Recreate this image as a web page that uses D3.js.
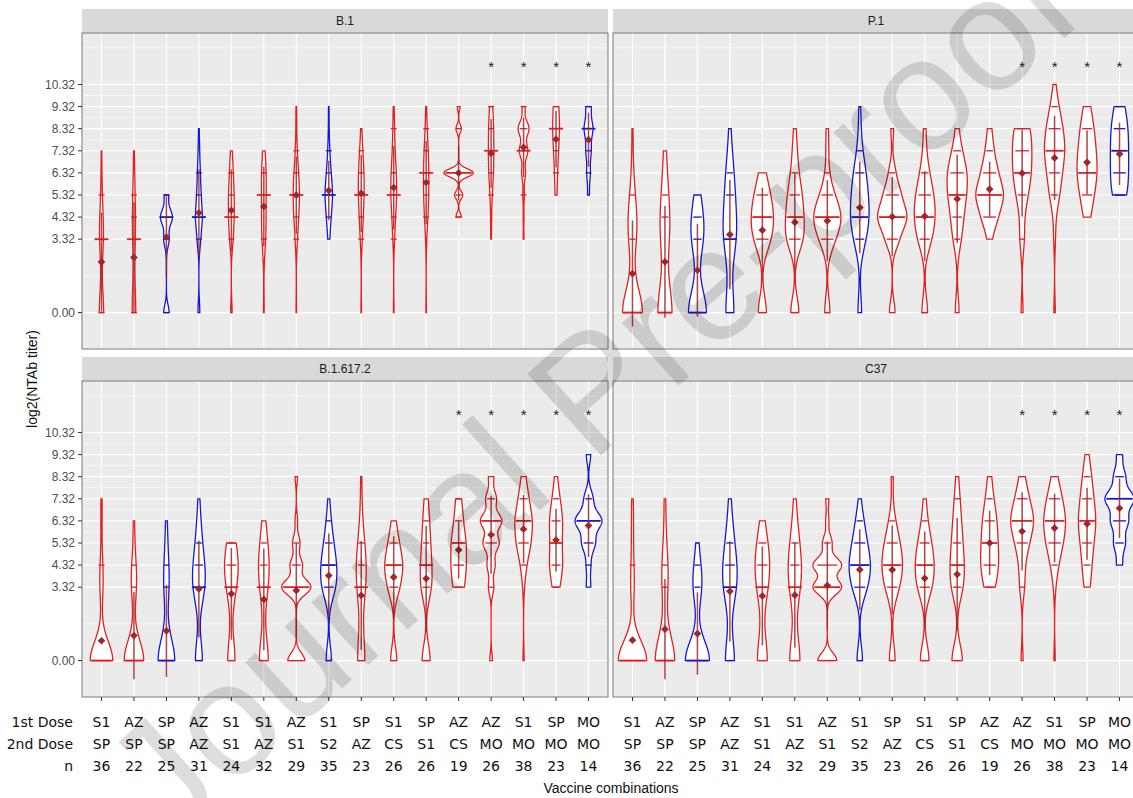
<!DOCTYPE html>
<html>
<head>
<meta charset="utf-8">
<script src="https://cdn.jsdelivr.net/npm/d3@7"></script>
<style>
  body { margin: 0; background: #fff; }
  svg text { font-family: "Liberation Sans", Arial, sans-serif; }
  .tbl { font-family: "DejaVu Sans", sans-serif !important; }
</style>
</head>
<body>
<script>
// ---- data ----
const variants = ['B.1', 'P.1', 'B.1.617.2', 'C37'];
const dose1 = ['S1','AZ','SP','AZ','S1','S1','AZ','S1','SP','S1','SP','AZ','AZ','S1','SP','MO'];
const dose2 = ['SP','SP','SP','AZ','S1','AZ','S1','S2','AZ','CS','S1','CS','MO','MO','MO','MO'];
const nSize = [36,22,25,31,24,32,29,35,23,26,26,19,26,38,23,14];
const blueGroups = [3, 4, 8, 16];
// titer levels (log2)
const levels = [0, 3.32, 4.32, 5.32, 6.32, 7.32, 8.32, 9.32, 10.32];
const yTicks = [0, 3.32, 4.32, 5.32, 6.32, 7.32, 8.32, 9.32, 10.32];

// number of subjects at each level, one row per vaccine combination
const countsB1 = [
  [16,11,5,2,1,1,0,0,0],
  [10,4,4,2,1,1,0,0,0],
  [5,5,11,4,0,0,0,0,0],
  [3,5,10,6,4,2,1,0,0],
  [2,4,6,6,4,2,0,0,0],
  [2,7,6,6,8,3,0,0,0],
  [1,3,6,9,6,2,1,1,0],
  [0,3,7,13,7,3,1,1,0],
  [1,2,4,6,6,3,1,0,0],
  [1,2,4,7,6,3,2,1,0],
  [1,1,4,6,6,5,2,1,0],
  [0,0,2,3,11,0,2,1,0],
  [0,1,1,2,6,6,6,4,0],
  [0,1,1,2,5,11,14,4,0],
  [0,0,0,2,3,5,7,6,0],
  [0,0,0,1,2,3,5,3,0]
];
const countsP1 = [
  [22,5,5,2,1,0,1,0,0],
  [11,4,3,2,1,1,0,0,0],
  [13,6,4,2,0,0,0,0,0],
  [8,9,4,4,4,1,1,0,0],
  [4,6,7,5,2,0,0,0,0],
  [5,8,7,6,3,2,1,0,0],
  [3,6,12,5,1,1,1,0,0],
  [3,6,9,7,6,2,1,1,0],
  [2,4,9,5,2,0,1,0,0],
  [3,5,7,6,3,1,1,0,0],
  [2,3,4,6,7,3,1,0,0],
  [0,1,4,7,4,2,1,0,0],
  [1,2,1,4,6,6,6,0,0],
  [1,1,1,5,7,10,8,4,1],
  [0,0,2,4,6,5,4,2,0],
  [0,0,0,3,3,3,3,2,0]
];
const countsDelta = [
  [29,3,2,0,1,1,0,0,0],
  [16,3,2,0,1,0,0,0,0],
  [17,4,2,1,1,0,0,0,0],
  [8,10,6,4,2,1,0,0,0],
  [7,5,8,4,0,0,0,0,0],
  [12,6,8,4,2,0,0,0,0],
  [7,12,5,3,1,0,1,0,0],
  [5,10,10,6,3,1,0,0,0],
  [8,5,6,2,1,0,1,0,0],
  [4,6,9,5,2,0,0,0,0],
  [6,6,5,4,3,2,0,0,0],
  [0,4,5,5,3,2,0,0,0],
  [1,2,3,6,8,4,2,0,0],
  [1,1,4,10,12,7,3,0,0],
  [0,3,6,4,6,3,1,0,0],
  [0,1,1,3,6,2,0,1,0]
];
const countsC37 = [
  [29,3,1,1,1,1,0,0,0],
  [15,3,2,1,0,1,0,0,0],
  [17,5,2,1,0,0,0,0,0],
  [9,9,6,4,2,1,0,0,0],
  [8,5,6,4,1,0,0,0,0],
  [11,7,7,4,2,1,0,0,0],
  [6,9,9,3,1,1,0,0,0],
  [4,8,11,7,4,1,0,0,0],
  [3,5,7,5,2,0,1,0,0],
  [5,6,7,5,2,1,0,0,0],
  [6,5,5,4,3,2,1,0,0],
  [0,3,5,4,4,2,1,0,0],
  [1,2,2,5,9,5,2,0,0],
  [1,1,4,9,12,8,3,0,0],
  [0,2,3,4,6,4,3,1,0],
  [0,0,1,2,3,5,2,1,0]
];
// groups marked with an asterisk
const starsB1 = [13,14,15,16];
const starsP1 = [13,14,15,16];
const starsDelta = [12,13,14,15,16];
const starsC37 = [13,14,15,16];

// ---- layout ----
const W = 1133, H = 798;
const colX = [82, 613];
const panelW = 526;
const rowTop = [33, 381];
const panelH = 316;
const stripH = 24;
const red = '#e31f1f', blue = '#1717cf', meanCol = '#a0262a';

const panels = [
  { name: variants[0], counts: countsB1, stars: starsB1, col: 0, row: 0 },
  { name: variants[1], counts: countsP1, stars: starsP1, col: 1, row: 0 },
  { name: variants[2], counts: countsDelta, stars: starsDelta, col: 0, row: 1 },
  { name: variants[3], counts: countsC37, stars: starsC37, col: 1, row: 1 }
];

const svg = d3.select('body').append('svg')
  .attr('width', W).attr('height', H)
  .style('display', 'block');
svg.append('rect').attr('width', W).attr('height', H).attr('fill', '#fff');

// R's bw.nrd0
function nrd0(x) {
  const s = d3.deviation(x);
  const iqr = d3.quantileSorted(x, 0.75) - d3.quantileSorted(x, 0.25);
  let lo = Math.min(s, iqr / 1.34);
  if (!(lo > 0)) lo = s || Math.abs(x[0]) || 1;
  return 0.9 * lo * Math.pow(x.length, -0.2);
}

// gaussian kernel density on a trimmed grid
function density(x, bw, n) {
  const lo = d3.min(x), hi = d3.max(x);
  return d3.range(n).map(i => {
    const v = lo + (hi - lo) * i / (n - 1);
    let s = 0;
    x.forEach(xi => { const z = (v - xi) / bw; s += Math.exp(-0.5 * z * z); });
    return { v: v, d: s / (x.length * bw * Math.sqrt(2 * Math.PI)) };
  });
}

// ggplot-style minor breaks
const minorTicks = (() => {
  const b = yTicks.slice();
  const bd = b[1] - b[0];
  const ext = [b[0] - bd].concat(b, [b[b.length - 1] + bd]);
  return d3.range(ext.length - 1).map(i => (ext[i] + ext[i + 1]) / 2);
})();

panels.forEach((p, pi) => {
  const x0 = colX[p.col], top = rowTop[p.row];
  const x = d3.scalePoint().domain(d3.range(16)).range([x0, x0 + panelW]).padding(0.6);
  const y = d3.scaleLinear().domain([-1.65, 12.65]).range([top + panelH, top]);
  const step = x.step();

  // strip
  svg.append('rect').attr('x', x0).attr('y', top - stripH).attr('width', panelW).attr('height', stripH)
    .attr('fill', '#d9d9d9');
  svg.append('text').attr('x', x0 + panelW / 2).attr('y', top - stripH / 2).attr('dy', '0.35em')
    .attr('text-anchor', 'middle').attr('font-size', 12).attr('fill', '#1a1a1a').text(p.name);

  const clipId = 'clip' + pi;
  svg.append('clipPath').attr('id', clipId).append('rect')
    .attr('x', x0).attr('y', top).attr('width', panelW).attr('height', panelH);
  const g = svg.append('g').attr('clip-path', `url(#${clipId})`);

  g.append('rect').attr('x', x0).attr('y', top).attr('width', panelW).attr('height', panelH).attr('fill', '#ebebeb');
  g.selectAll('.minor').data(minorTicks).join('line')
    .attr('x1', x0).attr('x2', x0 + panelW).attr('y1', d => y(d)).attr('y2', d => y(d))
    .attr('stroke', '#fff').attr('stroke-width', 0.6);
  g.selectAll('.major').data(yTicks).join('line')
    .attr('x1', x0).attr('x2', x0 + panelW).attr('y1', d => y(d)).attr('y2', d => y(d))
    .attr('stroke', '#fff').attr('stroke-width', 1.2);
  g.selectAll('.vgrid').data(d3.range(16)).join('line')
    .attr('x1', d => x(d)).attr('x2', d => x(d)).attr('y1', top).attr('y2', top + panelH)
    .attr('stroke', '#fff').attr('stroke-width', 1.2);

  // groups
  const groups = p.counts.map((row, gi) => {
    const vals = [];
    row.forEach((c, li) => { for (let k = 0; k < c; k++) vals.push(levels[li]); });
    vals.sort(d3.ascending);
    const bw = nrd0(vals);
    return { gi, vals, dens: density(vals, bw, 256), color: blueGroups.includes(gi + 1) ? blue : red };
  });
  const maxD = d3.max(groups, gr => d3.max(gr.dens, d => d.d));
  const wScale = d3.scaleLinear().domain([0, maxD]).range([0, 0.45 * step]);

  groups.forEach(gr => {
    const cx = x(gr.gi);
    const area = d3.area()
      .y(d => y(d.v))
      .x0(d => cx - wScale(d.d))
      .x1(d => cx + wScale(d.d));
    g.append('path').datum(gr.dens).attr('d', area)
      .attr('fill', '#fff').attr('stroke', gr.color).attr('stroke-width', 1.3);

    // quantile lines
    const n = gr.vals.length;
    const qs = [];
    [0.1, 0.25, 0.5, 0.75, 0.9].forEach(pr => {
      const q = gr.vals[Math.max(0, Math.ceil(pr * n) - 1)];
      const ex = qs.find(o => o.q === q);
      if (ex) { if (pr === 0.5) ex.med = true; } else qs.push({ q, med: pr === 0.5 });
    });
    const lo = gr.vals[0], hi = gr.vals[n - 1];
    qs.forEach(o => {
      const i = Math.round((o.q - lo) / (hi - lo) * (gr.dens.length - 1));
      const hw = Math.max(wScale(gr.dens[Math.min(gr.dens.length - 1, Math.max(0, i))].d) * (o.med ? 0.9 : 0.7), o.med ? 7 : 3);
      g.append('line').attr('x1', cx - hw).attr('x2', cx + hw).attr('y1', y(o.q)).attr('y2', y(o.q))
        .attr('stroke', gr.color).attr('stroke-width', o.med ? 1.8 : 1.3);
    });

    // mean +/- sd
    const m = d3.mean(gr.vals), sd = d3.deviation(gr.vals);
    if (m - sd >= -1 && m + sd <= 12) {
      g.append('line').attr('x1', cx).attr('x2', cx).attr('y1', y(m - sd)).attr('y2', y(m + sd))
        .attr('stroke', meanCol).attr('stroke-width', 1.5).attr('opacity', 0.85);
    }
    g.append('path').attr('d', d3.symbol(d3.symbolSquare, 30)())
      .attr('transform', `translate(${cx},${y(m)}) rotate(45)`).attr('fill', meanCol);
  });

  // asterisks
  g.selectAll('.star').data(p.stars).join('text')
    .attr('x', d => x(d - 1)).attr('y', y(11.2) + 7)
    .attr('text-anchor', 'middle').attr('font-size', 15).attr('fill', '#222').text('*');

  svg.append('rect').attr('x', x0).attr('y', top).attr('width', panelW).attr('height', panelH)
    .attr('fill', 'none').attr('stroke', '#7a7a7a').attr('stroke-width', 1);

  // y axis on left column
  if (p.col === 0) {
    const ya = svg.append('g');
    yTicks.forEach(t => {
      ya.append('line').attr('x1', x0 - 4).attr('x2', x0).attr('y1', y(t)).attr('y2', y(t)).attr('stroke', '#333');
      ya.append('text').attr('x', x0 - 7).attr('y', y(t)).attr('dy', '0.35em').attr('text-anchor', 'end')
        .attr('font-size', 12).attr('fill', '#4d4d4d').text(t.toFixed(2));
    });
  }
  // x ticks and dose table under bottom row
  if (p.row === 1) {
    const bottom = top + panelH;
    d3.range(16).forEach(i => {
      svg.append('line').attr('x1', x(i)).attr('x2', x(i)).attr('y1', bottom).attr('y2', bottom + 4).attr('stroke', '#333');
      [dose1[i], dose2[i], nSize[i]].forEach((t, r) => {
        svg.append('text').attr('class', 'tbl').attr('x', x(i)).attr('y', 727 + r * 22)
          .attr('text-anchor', 'middle').attr('font-size', 14).attr('fill', '#111').text(t);
      });
    });
  }
});

['1st Dose', '2nd Dose', 'n'].forEach((t, r) => {
  svg.append('text').attr('class', 'tbl').attr('x', 73).attr('y', 727 + r * 22)
    .attr('text-anchor', 'end').attr('font-size', 14).attr('fill', '#111').text(t);
});

svg.append('text').attr('x', 611).attr('y', 793).attr('text-anchor', 'middle')
  .attr('font-size', 14).attr('fill', '#111').text('Vaccine combinations');
svg.append('text').attr('transform', 'translate(37,379) rotate(-90)').attr('text-anchor', 'middle')
  .attr('font-size', 14).attr('fill', '#111').text('log2(NTAb titer)');

// watermark
svg.append('text').attr('transform', 'translate(590,390) rotate(-42)')
  .attr('text-anchor', 'middle').attr('dy', '0.35em')
  .attr('font-size', 160).attr('fill', '#000').attr('opacity', 0.13)
  .text('Journal Pre-proof');
</script>
</body>
</html>
